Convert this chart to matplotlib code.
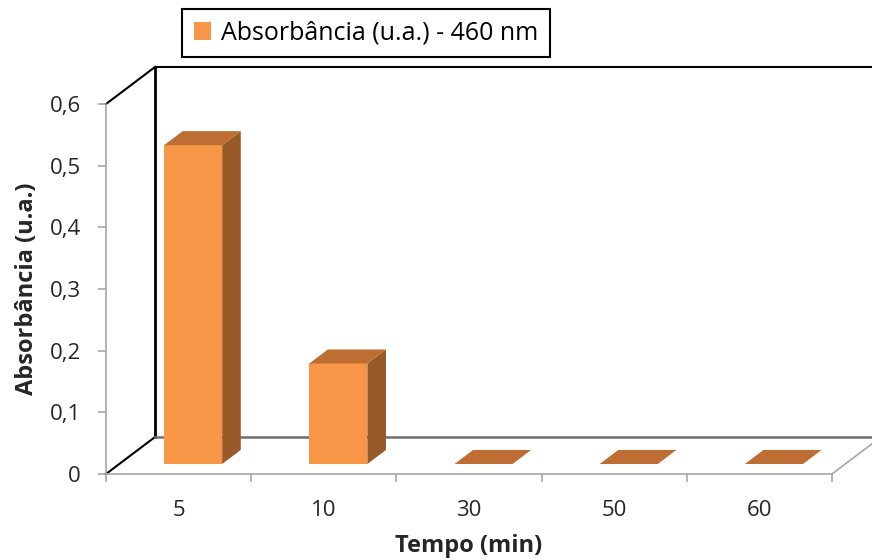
import numpy as np
import matplotlib.pyplot as plt
from matplotlib.patches import Polygon, Patch

# dados
tempos = ["5", "10", "30", "50", "60"]
absorbancia = [0.517, 0.163, 0.0, 0.0, 0.0]
yticks = [0, 0.1, 0.2, 0.3, 0.4, 0.5, 0.6]
ytick_labels = ["0", "0,1", "0,2", "0,3", "0,4", "0,5", "0,6"]

plt.rcParams['font.family'] = ['Open Sans', 'DejaVu Sans']

# cores (estilo Excel)
c_front = "#F79646"
c_top = "#BE6E32"
c_side = "#985A28"

# profundidade do efeito 3D (em unidades dos dados)
DX, DY = 0.3375, 0.06
d0, d1 = 0.27, 0.65          # frente / fundo da barra (fração da profundidade)
bar_left, bar_w = 0.40, 0.40

fig = plt.figure(figsize=(8.72, 5.6), dpi=100)
ax = fig.add_axes([106/872, (560-474)/560, 726/872, 370/560])
ax.set_xlim(0, len(tempos))
ax.set_ylim(0, 0.6)
ax.patch.set_alpha(0)

# paredes / chão
kw = dict(clip_on=False, solid_capstyle='projecting')
ax.plot([DX, DX], [DY, 0.6 + DY], color="black", lw=2, **kw)
ax.plot([DX, 6], [0.6 + DY, 0.6 + DY], color="black", lw=1.5, **kw)
ax.plot([0, DX], [0.6, 0.6 + DY], color="black", lw=1.5, **kw)
ax.plot([0, DX], [0, DY], color="black", lw=1.5, **kw)
ax.plot([DX, 6], [DY, DY], color="#6E6E6E", lw=1.8, **kw)
ax.plot([5, 5 + DX], [0, DY], color="#A6A6A6", lw=1.2, **kw)

# barras 3D
for i, v in enumerate(absorbancia):
    x0 = i + bar_left
    x1 = x0 + bar_w
    yb = d0 * DY
    yt = yb + v
    ddx = (d1 - d0) * DX
    ddy = (d1 - d0) * DY
    if v > 0:
        ax.add_patch(Polygon([(x0, yb), (x1, yb), (x1, yt), (x0, yt)],
                             closed=True, facecolor=c_front, edgecolor='none', clip_on=False, zorder=3))
        ax.add_patch(Polygon([(x1, yb), (x1 + ddx, yb + ddy), (x1 + ddx, yt + ddy), (x1, yt)],
                             closed=True, facecolor=c_side, edgecolor='none', clip_on=False, zorder=3))
    ax.add_patch(Polygon([(x0, yt), (x1, yt), (x1 + ddx, yt + ddy), (x0 + ddx, yt + ddy)],
                         closed=True, facecolor=c_top, edgecolor='none', clip_on=False, zorder=3))

# eixos
for s in ["top", "right"]:
    ax.spines[s].set_visible(False)
for s in ["left", "bottom"]:
    ax.spines[s].set_color("#A6A6A6")
    ax.spines[s].set_linewidth(1.2)

ax.set_yticks(yticks)
ax.set_yticklabels(ytick_labels)
ax.set_xticks(np.arange(len(tempos) + 1))
ax.set_xticklabels([])
ax.set_xticks(np.arange(len(tempos)) + 0.5, minor=True)
ax.set_xticklabels(tempos, minor=True)
ax.tick_params(axis='y', length=6, width=1.2, color="#A6A6A6", labelsize=16, pad=12, labelcolor="#262626")
ax.tick_params(axis='x', which='major', length=6, width=1.2, color="#A6A6A6")
ax.tick_params(axis='x', which='minor', length=0, labelsize=16, pad=19, labelcolor="#262626")

ax.set_ylabel("Absorbância (u.a.)", fontsize=17, fontweight='bold', labelpad=8, color="#262626")
ax.set_xlabel("Tempo (min)", fontsize=17, fontweight='bold', labelpad=9, color="#262626")

fig.legend(handles=[Patch(facecolor=c_front, label="Absorbância (u.a.) - 460 nm")],
           loc='center', bbox_to_anchor=(366/872, 1 - 33/560), fontsize=18,
           fancybox=False, edgecolor="black", framealpha=1,
           handlelength=0.7, handleheight=0.7, handletextpad=0.4, borderpad=0.45,
           borderaxespad=0)
fig.legends[0].get_frame().set_linewidth(1.5)

fig.savefig("out.png", dpi=100)
